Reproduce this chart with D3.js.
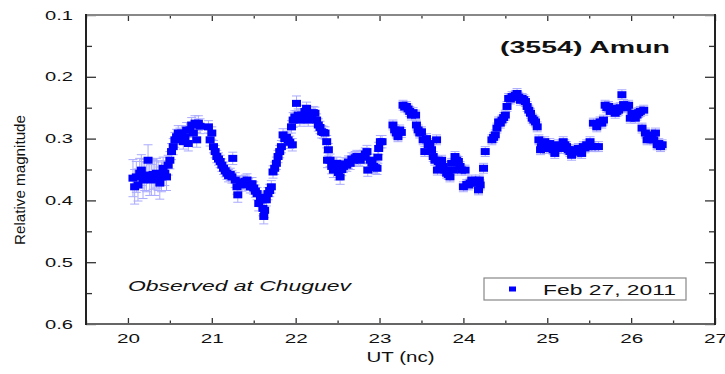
<!DOCTYPE html>
<html>
<head>
<meta charset="utf-8">
<script src="https://cdn.jsdelivr.net/npm/d3@7"></script>
<style>
  html, body { margin: 0; padding: 0; background: #fff; }
  text { font-family: "Liberation Sans", Arial, sans-serif; }
</style>
</head>
<body>
<svg id="chart" width="725" height="374"></svg>
<script>
// ---------------- data ----------------
const utTime = [
 20.06,20.08,20.10,20.12,20.14,20.16,20.18,20.20,20.22,20.24,20.26,20.28,20.30,20.32,20.34,20.36,20.38,20.40,20.42,20.44,
 20.46,20.48,20.50,20.52,20.54,20.56,20.58,20.60,20.62,20.64,20.66,20.68,20.70,20.72,20.74,20.76,20.78,20.80,20.82,20.84,
 20.86,20.96,20.98,21.00,21.02,21.04,21.06,21.08,21.10,21.12,21.14,21.16,21.18,21.20,21.22,21.24,21.25,21.28,21.30,21.31,
 21.34,21.36,21.38,21.40,21.42,21.44,21.46,21.48,21.50,21.52,21.54,21.56,21.58,21.60,21.61,21.62,21.63,21.65,21.67,21.69,
 21.71,21.73,21.75,21.77,21.79,21.81,21.83,21.85,21.87,21.89,21.91,21.93,21.95,21.96,21.97,21.99,22.01,22.03,22.05,22.07,
 22.09,22.11,22.13,22.15,22.17,22.19,22.21,22.23,22.25,22.27,22.29,22.31,22.33,22.35,22.37,22.38,22.39,22.41,22.43,22.45,
 22.47,22.49,22.51,22.53,22.55,22.57,22.59,22.61,22.63,22.65,22.67,22.69,22.71,22.73,22.75,22.77,22.79,22.81,22.83,22.85,
 22.86,22.89,22.91,22.93,22.95,22.97,22.98,22.99,23.01,23.03,
 23.16,23.18,23.20,23.22,23.24,23.26,23.28,23.30,23.32,23.34,23.36,23.38,23.40,23.43,23.44,23.46,23.48,23.50,23.52,23.54,
 23.56,23.58,23.60,23.62,23.64,23.66,23.68,23.69,23.70,23.72,23.74,23.76,23.78,23.80,23.82,23.84,23.86,23.88,23.90,23.92,
 23.94,23.96,23.98,24.00,24.02,24.04,24.06,24.08,24.10,24.12,24.14,24.16,24.18,24.19,24.20,24.24,24.26,
 24.34,24.36,24.38,24.40,24.42,24.44,24.46,24.48,24.50,24.52,24.54,24.56,24.58,24.60,24.62,24.64,24.66,24.68,24.70,24.72,
 24.74,24.76,24.78,24.80,24.82,24.84,24.86,24.88,24.90,24.92,24.93,24.95,24.97,24.99,25.01,25.03,25.05,25.07,25.09,25.11,
 25.13,25.15,25.17,25.19,25.21,25.23,25.25,25.27,25.29,25.31,25.33,25.35,25.37,25.39,25.41,25.43,25.45,25.47,25.49,25.51,
 25.53,25.55,25.57,25.59,25.61,25.63,25.65,25.67,25.69,25.71,25.73,25.75,25.77,25.79,25.81,25.83,25.85,25.87,25.89,25.91,
 25.93,25.95,25.97,25.99,26.01,26.03,26.05,26.07,26.09,26.11,26.13,26.15,26.17,26.19,26.21,26.23,26.25,26.27,26.29,26.31,
 26.33,26.35,26.37
];
const relMag = [
 0.364,0.378,0.362,0.375,0.356,0.351,0.367,0.359,0.362,0.335,0.362,0.367,0.358,0.364,0.356,0.360,0.372,0.362,0.348,0.356,
 0.362,0.343,0.335,0.321,0.313,0.302,0.297,0.291,0.295,0.291,0.305,0.297,0.286,0.308,0.286,0.278,0.291,0.275,0.302,0.275,
 0.280,0.281,0.302,0.291,0.313,0.321,0.329,0.333,0.337,0.343,0.348,0.352,0.356,0.360,0.358,0.362,0.332,0.367,0.378,0.391,
 0.370,0.375,0.372,0.369,0.367,0.374,0.378,0.373,0.380,0.385,0.389,0.405,0.395,0.399,0.413,0.426,0.416,0.399,0.389,0.384,
 0.378,0.354,0.348,0.340,0.329,0.321,0.313,0.294,0.300,0.298,0.302,0.306,0.281,0.310,0.270,0.265,0.243,0.262,0.270,0.262,
 0.266,0.256,0.251,0.270,0.265,0.262,0.258,0.259,0.270,0.278,0.282,0.289,0.290,0.291,0.305,0.335,0.318,0.335,0.345,0.351,
 0.346,0.340,0.355,0.362,0.350,0.345,0.341,0.343,0.338,0.340,0.333,0.335,0.331,0.329,0.333,0.335,0.330,0.329,0.325,0.321,
 0.351,0.335,0.340,0.345,0.347,0.348,0.330,0.316,0.305,0.305,
 0.278,0.286,0.291,0.297,0.286,0.290,0.246,0.249,0.248,0.252,0.256,0.262,0.258,0.262,0.278,0.286,0.291,0.289,0.302,0.321,
 0.300,0.310,0.308,0.318,0.329,0.335,0.302,0.351,0.337,0.341,0.335,0.345,0.351,0.356,0.358,0.362,0.340,0.351,0.329,0.335,
 0.337,0.345,0.351,0.378,0.351,0.374,0.375,0.372,0.367,0.371,0.372,0.370,0.383,0.367,0.375,0.348,0.321,
 0.302,0.298,0.294,0.283,0.273,0.275,0.270,0.266,0.262,0.248,0.235,0.236,0.232,0.233,0.230,0.227,0.233,0.238,0.235,0.237,
 0.240,0.248,0.254,0.259,0.267,0.270,0.273,0.281,0.302,0.318,0.313,0.310,0.305,0.316,0.312,0.308,0.314,0.318,0.324,0.315,
 0.310,0.313,0.316,0.305,0.310,0.313,0.318,0.321,0.327,0.320,0.318,0.322,0.316,0.320,0.324,0.313,0.315,0.310,0.312,0.305,
 0.313,0.275,0.313,0.281,0.313,0.273,0.275,0.270,0.246,0.250,0.248,0.256,0.253,0.251,0.259,0.256,0.254,0.250,0.229,0.245,
 0.248,0.250,0.246,0.267,0.259,0.262,0.267,0.262,0.258,0.256,0.283,0.254,0.291,0.302,0.298,0.294,0.300,0.302,0.291,0.310,
 0.308,0.313,0.310
];
const magErr = [
 0.030,0.028,0.025,0.026,0.024,0.025,0.030,0.025,0.024,0.025,0.030,0.025,0.024,0.028,0.024,0.024,0.026,0.024,0.018,0.020,
 0.022,0.016,0.014,0.013,0.013,0.012,0.012,0.012,0.012,0.012,0.012,0.012,0.012,0.012,0.012,0.012,0.012,0.012,0.012,0.012,
 0.012,0.010,0.010,0.010,0.010,0.010,0.010,0.010,0.010,0.010,0.010,0.010,0.010,0.010,0.010,0.010,0.010,0.012,0.012,0.012,
 0.010,0.010,0.010,0.010,0.010,0.010,0.010,0.010,0.010,0.010,0.010,0.012,0.010,0.012,0.012,0.012,0.012,0.010,0.010,0.010,
 0.010,0.010,0.010,0.010,0.010,0.010,0.010,0.010,0.010,0.010,0.010,0.010,0.010,0.010,0.012,0.010,0.012,0.010,0.010,0.010,
 0.010,0.010,0.010,0.010,0.010,0.010,0.010,0.010,0.010,0.010,0.010,0.010,0.010,0.010,0.010,0.012,0.010,0.010,0.012,0.012,
 0.010,0.010,0.012,0.012,0.010,0.010,0.010,0.010,0.010,0.010,0.010,0.010,0.010,0.010,0.010,0.010,0.010,0.010,0.010,0.010,
 0.010,0.010,0.010,0.010,0.010,0.010,0.010,0.010,0.010,0.010,
 0.008,0.008,0.008,0.008,0.008,0.008,0.008,0.008,0.008,0.008,0.008,0.008,0.008,0.008,0.008,0.008,0.008,0.008,0.008,0.008,
 0.008,0.008,0.008,0.008,0.008,0.008,0.008,0.008,0.008,0.008,0.008,0.008,0.008,0.008,0.008,0.008,0.008,0.008,0.008,0.008,
 0.008,0.008,0.008,0.008,0.008,0.008,0.008,0.008,0.008,0.008,0.008,0.008,0.008,0.008,0.008,0.008,0.008,
 0.008,0.008,0.008,0.008,0.008,0.008,0.008,0.008,0.008,0.008,0.008,0.008,0.008,0.008,0.008,0.008,0.008,0.008,0.008,0.008,
 0.008,0.008,0.008,0.008,0.008,0.008,0.008,0.008,0.008,0.008,0.008,0.008,0.008,0.008,0.008,0.008,0.008,0.008,0.008,0.008,
 0.008,0.008,0.008,0.008,0.008,0.008,0.008,0.008,0.008,0.008,0.008,0.008,0.008,0.008,0.008,0.008,0.008,0.008,0.008,0.008,
 0.008,0.008,0.008,0.008,0.008,0.008,0.008,0.008,0.008,0.008,0.008,0.008,0.008,0.008,0.008,0.008,0.008,0.008,0.008,0.008,
 0.008,0.008,0.008,0.008,0.008,0.008,0.008,0.008,0.008,0.008,0.008,0.008,0.008,0.008,0.008,0.008,0.008,0.008,0.008,0.008,
 0.008,0.008,0.008
];
const xTickValues = [20, 21, 22, 23, 24, 25, 26, 27];
const xMinorValues = [19.5, 20.5, 21.5, 22.5, 23.5, 24.5, 25.5, 26.5];
const yTickValues = [0.1, 0.2, 0.3, 0.4, 0.5, 0.6];
const yMinorValues = [0.15, 0.25, 0.35, 0.45, 0.55];
const titleText = "(3554) Amun";
const noteText = "Observed at Chuguev";
const legendLabel = "Feb 27, 2011";
const xLabel = "UT (nc)";
const yLabel = "Relative magnitude";

// ---------------- layout ----------------
const svg = d3.select("#chart");
const L = 86, R = 715, T = 15, B = 324;
const x = d3.scaleLinear().domain([19.5, 27]).range([L, R]);
const y = d3.scaleLinear().domain([0.1, 0.6]).range([T, B]);

svg.append("rect").attr("width", 725).attr("height", 374).attr("fill", "#fff");

const data = utTime.map((t, i) => ({ t, m: relMag[i], e: magErr[i] }));

// error bars
const eb = svg.append("g").attr("stroke", "#9d9dff").attr("stroke-width", 1).attr("opacity", 0.85);
data.forEach(d => {
  const cx = x(d.t), y1 = y(d.m - d.e), y2 = y(d.m + d.e);
  eb.append("line").attr("x1", cx).attr("x2", cx).attr("y1", y1).attr("y2", y2);
  eb.append("line").attr("x1", cx - 4.5).attr("x2", cx + 4.5).attr("y1", y1).attr("y2", y1);
  eb.append("line").attr("x1", cx - 4.5).attr("x2", cx + 4.5).attr("y1", y2).attr("y2", y2);
});

// points
svg.append("g").selectAll("rect").data(data).join("rect")
  .attr("x", d => x(d.t) - 4.5).attr("y", d => y(d.m) - 3.5)
  .attr("width", 9).attr("height", 7)
  .attr("fill", "#0000ff");

// axes (inward ticks)
function styleAxis(g) {
  g.select(".domain").remove();
  g.selectAll("line").attr("stroke", "#333").attr("stroke-width", 1.3);
}
// bottom
svg.append("g").attr("transform", `translate(0,${B})`)
  .call(d3.axisBottom(x).tickValues(xTickValues).tickSize(-6).tickPadding(10).tickFormat(d3.format("d")))
  .call(styleAxis)
  .call(g => g.selectAll("text").attr("font-size", 13).attr("fill", "#111")
      .attr("textLength", 23).attr("lengthAdjust", "spacingAndGlyphs"));
svg.append("g").attr("transform", `translate(0,${B})`)
  .call(d3.axisBottom(x).tickValues(xMinorValues).tickSize(-3.5).tickFormat(""))
  .call(styleAxis);
// top
svg.append("g").attr("transform", `translate(0,${T})`)
  .call(d3.axisTop(x).tickValues(xTickValues).tickSize(-6).tickFormat(""))
  .call(styleAxis);
svg.append("g").attr("transform", `translate(0,${T})`)
  .call(d3.axisTop(x).tickValues(xMinorValues).tickSize(-3.5).tickFormat(""))
  .call(styleAxis);
// left
svg.append("g").attr("transform", `translate(${L},0)`)
  .call(d3.axisLeft(y).tickValues(yTickValues).tickSize(-10).tickPadding(13).tickFormat(d3.format(".1f")))
  .call(styleAxis)
  .call(g => g.selectAll("text").attr("font-size", 13).attr("fill", "#111")
      .attr("textLength", 28).attr("lengthAdjust", "spacingAndGlyphs"));
svg.append("g").attr("transform", `translate(${L},0)`)
  .call(d3.axisLeft(y).tickValues(yMinorValues).tickSize(-6).tickFormat(""))
  .call(styleAxis);
// right
svg.append("g").attr("transform", `translate(${R},0)`)
  .call(d3.axisRight(y).tickValues(yTickValues).tickSize(-10).tickFormat(""))
  .call(styleAxis);
svg.append("g").attr("transform", `translate(${R},0)`)
  .call(d3.axisRight(y).tickValues(yMinorValues).tickSize(-6).tickFormat(""))
  .call(styleAxis);

// frame
svg.append("line").attr("x1", L).attr("x2", R).attr("y1", T).attr("y2", T).attr("stroke", "#888").attr("stroke-width", 2);
svg.append("line").attr("x1", L).attr("x2", R).attr("y1", B).attr("y2", B).attr("stroke", "#666").attr("stroke-width", 2);
svg.append("line").attr("x1", L).attr("x2", L).attr("y1", T - 1).attr("y2", B + 1).attr("stroke", "#222").attr("stroke-width", 2);
svg.append("line").attr("x1", R).attr("x2", R).attr("y1", T - 1).attr("y2", B + 1).attr("stroke", "#222").attr("stroke-width", 2);

// axis titles
svg.append("text").attr("x", (L + R) / 2).attr("y", 362).attr("text-anchor", "middle")
  .attr("font-size", 15).attr("fill", "#111")
  .attr("textLength", 68).attr("lengthAdjust", "spacingAndGlyphs").text(xLabel);
svg.append("text").attr("transform", "translate(25,180) rotate(-90)").attr("text-anchor", "middle")
  .attr("font-size", 14).attr("fill", "#111")
  .attr("textLength", 130).attr("lengthAdjust", "spacingAndGlyphs").text(yLabel);

// title
svg.append("text").attr("x", 500).attr("y", 53).attr("font-size", 16).attr("font-weight", "bold")
  .attr("fill", "#111").attr("textLength", 170).attr("lengthAdjust", "spacingAndGlyphs").text(titleText);

// note
svg.append("text").attr("x", 128).attr("y", 291).attr("font-size", 14).attr("font-style", "italic")
  .attr("fill", "#111").attr("textLength", 223).attr("lengthAdjust", "spacingAndGlyphs").text(noteText);

// legend
const lg = svg.append("g");
lg.append("rect").attr("x", 484).attr("y", 278).attr("width", 202).attr("height", 22)
  .attr("fill", "#fff").attr("stroke", "#888").attr("stroke-width", 1.2);
lg.append("rect").attr("x", 509).attr("y", 286.5).attr("width", 7).attr("height", 5).attr("fill", "#0000ff");
lg.append("text").attr("x", 543).attr("y", 294.5).attr("font-size", 14).attr("fill", "#111")
  .attr("textLength", 133).attr("lengthAdjust", "spacingAndGlyphs").text(legendLabel);
</script>
</body>
</html>
